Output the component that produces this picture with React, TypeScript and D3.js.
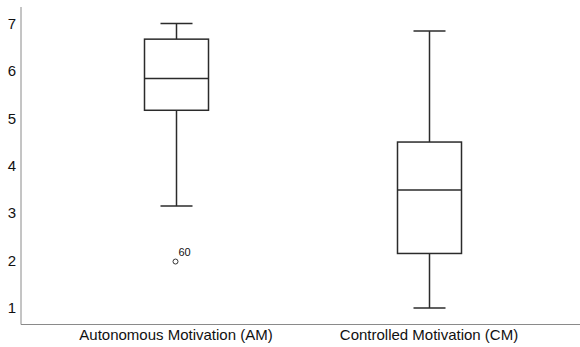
import React, { useEffect, useRef } from 'react';
import * as d3 from 'd3';

// box plot summaries
const categories = ['Autonomous Motivation (AM)', 'Controlled Motivation (CM)'];
const whiskerLow = [3.15, 1.0];
const q1 = [5.17, 2.15];
const median = [5.84, 3.49];
const q3 = [6.67, 4.5];
const whiskerHigh = [7.0, 6.84];
const outliers = [{ cat: 0, value: 1.98, label: '60' }];
const yTicks = [1, 2, 3, 4, 5, 6, 7];

const width = 580;
const height = 347;

const App = () => {
  const svgRef = useRef(null);

  useEffect(() => {
    const svg = d3.select(svgRef.current);
    svg.selectAll('*').remove();

    const left = 21;
    const bottom = 324.5;

    const x = d3.scalePoint()
      .domain(categories)
      .range([left, 584])
      .padding(0.6126);

    const y = d3.scaleLinear()
      .domain([1, 7])
      .range([308, 23.5]);

    const boxW = 64;
    const capW = 32;
    const stroke = '#2b2b2b';

    // axes lines
    svg.append('line')
      .attr('x1', left).attr('x2', left)
      .attr('y1', 7).attr('y2', bottom)
      .attr('stroke', '#8a8a8a').attr('stroke-width', 1);
    svg.append('line')
      .attr('x1', left).attr('x2', 580)
      .attr('y1', bottom).attr('y2', bottom)
      .attr('stroke', '#8a8a8a').attr('stroke-width', 1);

    // y tick labels
    svg.selectAll('text.ytick')
      .data(yTicks)
      .enter()
      .append('text')
      .attr('class', 'ytick')
      .attr('x', 16)
      .attr('y', d => y(d))
      .attr('dy', '0.35em')
      .attr('text-anchor', 'end')
      .style('font-family', 'Liberation Sans, Arial, sans-serif')
      .style('font-size', '15px')
      .attr('fill', '#111')
      .text(d => d);

    // x labels
    svg.selectAll('text.xlab')
      .data(categories)
      .enter()
      .append('text')
      .attr('class', 'xlab')
      .attr('x', d => x(d))
      .attr('y', 335)
      .attr('dy', '0.35em')
      .attr('text-anchor', 'middle')
      .style('font-family', 'Liberation Sans, Arial, sans-serif')
      .style('font-size', '15px')
      .attr('fill', '#111')
      .text(d => d);

    const boxes = svg.selectAll('g.box')
      .data(categories)
      .enter()
      .append('g')
      .attr('class', 'box');

    boxes.each(function (d, i) {
      const g = d3.select(this);
      const cx = Math.round(x(d)) + 0.5;
      // whiskers
      g.append('line')
        .attr('x1', cx).attr('x2', cx)
        .attr('y1', y(whiskerHigh[i])).attr('y2', y(q3[i]))
        .attr('stroke', stroke).attr('stroke-width', 1.5);
      g.append('line')
        .attr('x1', cx).attr('x2', cx)
        .attr('y1', y(q1[i])).attr('y2', y(whiskerLow[i]))
        .attr('stroke', stroke).attr('stroke-width', 1.5);
      // caps
      [whiskerHigh[i], whiskerLow[i]].forEach(v => {
        g.append('line')
          .attr('x1', cx - capW / 2).attr('x2', cx + capW / 2)
          .attr('y1', y(v)).attr('y2', y(v))
          .attr('stroke', stroke).attr('stroke-width', 1.5);
      });
      // box
      g.append('rect')
        .attr('x', cx - boxW / 2)
        .attr('y', y(q3[i]))
        .attr('width', boxW)
        .attr('height', y(q1[i]) - y(q3[i]))
        .attr('fill', 'white')
        .attr('stroke', stroke).attr('stroke-width', 1.5);
      // median
      g.append('line')
        .attr('x1', cx - boxW / 2).attr('x2', cx + boxW / 2)
        .attr('y1', y(median[i])).attr('y2', y(median[i]))
        .attr('stroke', stroke).attr('stroke-width', 1.5);
    });

    // outliers
    outliers.forEach(o => {
      const cx = Math.round(x(categories[o.cat])) + 0.5;
      svg.append('circle')
        .attr('cx', cx - 1)
        .attr('cy', y(o.value))
        .attr('r', 2.5)
        .attr('fill', 'white')
        .attr('stroke', '#333')
        .attr('stroke-width', 1);
      svg.append('text')
        .attr('x', cx + 2)
        .attr('y', y(o.value) - 6)
        .style('font-family', 'Liberation Sans, Arial, sans-serif')
        .style('font-size', '11px')
        .attr('fill', '#111')
        .text(o.label);
    });
  }, []);

  return (
    <svg
      ref={svgRef}
      width={width}
      height={height}
      viewBox={`0 0 ${width} ${height}`}
      style={{ position: 'absolute', left: 0, top: 0, background: 'white' }}
    />
  );
};

export default App;
